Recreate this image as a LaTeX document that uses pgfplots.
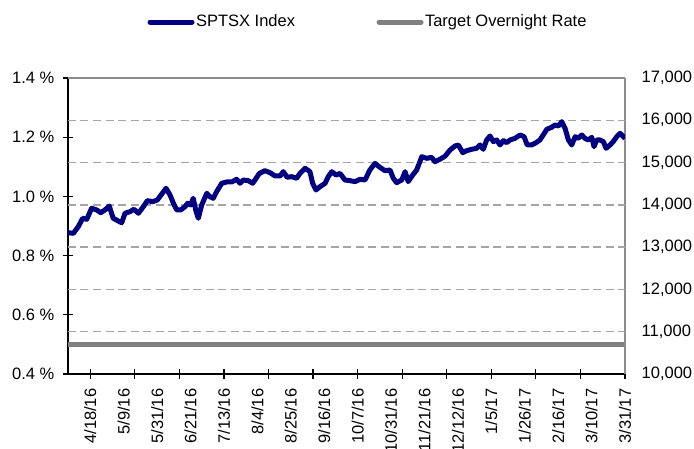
\documentclass[border=0pt]{standalone}
\usepackage{fontspec}
\setmainfont{Liberation Sans}
\usepackage{pgfplots}
\pgfplotsset{compat=1.18}
\usetikzlibrary{calc}
\definecolor{tsxblue}{RGB}{0,0,128}
\definecolor{rategray}{RGB}{128,128,128}
\definecolor{gridgray}{RGB}{165,165,165}
\definecolor{framegray}{RGB}{140,140,140}

\begin{document}
\fontsize{16.5}{19}\selectfont
\begin{tikzpicture}
\pgfplotsset{
  chart/.style={
    scale only axis, width=557pt, height=296pt,
    xmin=0, xmax=250,
    /pgf/number format/assume math mode=true,
    tick align=center,
    major tick length=10pt,
  },
}
% left axis: rate in percent, dates along the bottom
\begin{axis}[chart, name=ax,
  ymin=0.4, ymax=1.4,
  axis x line*=bottom, axis y line*=left,
  axis line style={black, line width=1.6pt, -},
  ytick={0.4,0.6,0.8,1.0,1.2,1.4},
  yticklabel={\pgfmathprintnumber[fixed,fixed zerofill,precision=1]{\tick}\ \%},
  yticklabel style={xshift=-3pt},
  ytick style={black, line width=1.2pt},
  xtick={10,25,...,250},
  xticklabels={4/18/16,5/9/16,5/31/16,6/21/16,7/13/16,8/4/16,8/25/16,9/16/16,10/7/16,10/31/16,11/21/16,12/12/16,1/5/17,1/26/17,2/16/17,3/10/17,3/31/17},
  xticklabel style={rotate=90, anchor=east},
  xticklabel shift={4pt},
  xtick style={draw=none},
  extra x ticks={10,30,...,250},
  extra x tick labels={},
  extra x tick style={xtick style={draw=black, line width=1.2pt}},
]
\addplot[rategray, line width=5pt] coordinates {(0,0.5) (250,0.5)};
\end{axis}
% right axis: index level
\begin{axis}[chart,
  ymin=10000, ymax=17000,
  axis x line*=top, axis y line*=right,
  axis line style={framegray, line width=1.2pt, -},
  xtick=\empty,
  ytick={10000,11000,...,17000},
  scaled y ticks=false,
  major tick length=0pt,
  yticklabel style={/pgf/number format/1000 sep={,}, xshift=11pt},
  extra y ticks={11000,12000,...,16000},
  extra y tick labels={},
  extra y tick style={grid=major},
  grid style={gridgray, dash pattern=on 8pt off 4.5pt, line width=1.3pt},
  legend columns=2,
  legend style={at={(axis description cs:0.137,1.189)}, anchor=west,
    draw=none, fill=none, font=\fontsize{16.5}{19}\selectfont,
    nodes={inner xsep=1.5pt},
    /tikz/every even column/.append style={column sep=80pt}},
  legend image code/.code={\draw[#1, line cap=round] (0pt,0pt) -- (42pt,0pt);},
]
\addplot[tsxblue, line width=5pt, line join=round] coordinates {
(0,13342) (2.4,13327) (4.6,13484) (6.6,13682) (8.4,13658) (10.6,13919)
(12.9,13879) (14.7,13815) (16.6,13879) (18.5,13973) (20.3,13682) (22.6,13618)
(24.1,13578) (25.6,13801) (27.8,13839) (29.6,13895) (31.6,13801) (33.8,13957)
(35.6,14099) (38.0,14075) (40.1,14115) (42.1,14257) (44.0,14392) (45.8,14233)
(47.3,14037) (48.8,13879) (50.6,13879) (52.5,13957) (53.7,14037) (55.1,13997)
(56.2,14155) (57.5,13839) (58.5,13682) (60.0,13997) (62.3,14273) (63.7,14193)
(65.2,14155) (66.7,14311) (69.0,14510) (71.2,14541) (73.5,14541) (75.7,14605)
(77.2,14510) (78.7,14588) (80.9,14572) (82.9,14510) (85.9,14744) (88.4,14808)
(90.7,14760) (92.9,14683) (95.2,14683) (96.6,14785) (98.4,14652) (100.4,14667)
(102.6,14628) (104.1,14744) (106.4,14864) (108.6,14785) (109.8,14510) (111.3,14352)
(113.1,14430) (115.4,14510) (116.8,14667) (118.4,14785) (120.3,14706) (122.1,14744)
(124.3,14588) (126.6,14572) (128.8,14549) (131.1,14605) (133.3,14588) (135.5,14825)
(137.8,14982) (140.0,14887) (142.3,14808) (144.5,14825) (146.0,14628) (147.5,14525)
(149.8,14588) (151.3,14785) (152.7,14549) (154.7,14706) (156.5,14825) (158.8,15139)
(161.0,15100) (163.2,15124) (164.7,15021) (167.0,15080) (169.2,15150) (171.5,15297)
(173.7,15392) (175.2,15416) (177.2,15234) (178.9,15281) (181.2,15314) (183.4,15337)
(184.9,15416) (186.4,15314) (187.9,15534) (189.4,15629) (190.9,15494) (192.4,15534)
(193.9,15416) (195.4,15518) (196.9,15471) (198.4,15534) (200.6,15573) (202.9,15652)
(204.7,15613) (206.1,15416) (208.1,15416) (210.1,15471) (211.8,15534) (213.3,15652)
(214.9,15787) (217.1,15834) (218.6,15889) (220.1,15865) (221.6,15967) (223.1,15810)
(224.6,15534) (226.1,15416) (227.6,15613) (229.0,15573) (230.6,15652) (232.0,15573)
(233.5,15534) (235.1,15597) (236.1,15376) (237.3,15534) (238.8,15534) (240.3,15494)
(241.5,15337) (243.3,15416) (244.7,15494) (246.3,15613) (247.8,15692) (250,15573)
};
\addlegendentry{SPTSX Index}
\addlegendimage{rategray, line width=5pt}
\addlegendentry{Target Overnight Rate}
\end{axis}
\pgfresetboundingbox
\path ($(ax.south west)+(-68pt,-75pt)$) rectangle ($(ax.north east)+(69pt,78pt)$);
\end{tikzpicture}
\end{document}
